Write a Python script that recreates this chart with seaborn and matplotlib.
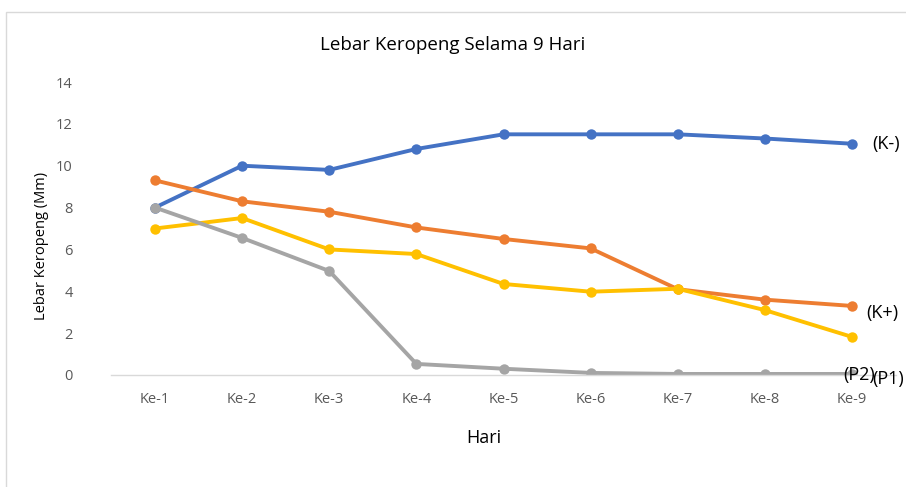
import matplotlib
matplotlib.use("Agg")
import matplotlib.pyplot as plt
import seaborn as sns
import pandas as pd
from matplotlib.patches import Rectangle

days = ["Ke-1", "Ke-2", "Ke-3", "Ke-4", "Ke-5", "Ke-6", "Ke-7", "Ke-8", "Ke-9"]
k_minus = [8.0, 10.0, 9.8, 10.8, 11.5, 11.5, 11.5, 11.3, 11.05]
k_plus = [9.3, 8.3, 7.8, 7.05, 6.5, 6.05, 4.1, 3.6, 3.3]
p1 = [7.0, 7.5, 6.0, 5.78, 4.35, 3.98, 4.12, 3.1, 1.82]
p2 = [8.0, 6.55, 4.97, 0.53, 0.3, 0.1, 0.05, 0.05, 0.05]
series_names = ["(K-)", "(K+)", "(P1)", "(P2)"]
colors = ["#4472C4", "#ED7D31", "#FFC000", "#A5A5A5"]

rows = []
for name, vals in zip(series_names, [k_minus, k_plus, p1, p2]):
    for i, v in enumerate(vals):
        rows.append({"idx": i, "val": v, "series": name})
df = pd.DataFrame(rows)

sns.set_theme(style="white")
plt.rcParams["font.family"] = ["Open Sans", "DejaVu Sans"]

fig = plt.figure(figsize=(9.06, 4.87), dpi=100)
ax = fig.add_axes([111.4 / 906, 112 / 487, 784.2 / 906, 293 / 487])

sns.lineplot(data=df, x="idx", y="val", hue="series", palette=colors,
             hue_order=series_names, sort=False, marker="o", markersize=7.5,
             markeredgewidth=0, linewidth=2.8, ax=ax, legend=False)

ax.set_xlim(-0.5, 8.5)
ax.set_ylim(0, 14)
ax.set_xticks(range(len(days)))
ax.set_xticklabels(days)
ax.set_yticks(range(0, 15, 2))
ax.tick_params(axis="both", colors="#595959", labelsize=10.5, length=0)
ax.tick_params(axis="x", pad=12)
ax.tick_params(axis="y", pad=28)
for s in ["left", "right", "top"]:
    ax.spines[s].set_visible(False)
ax.spines["bottom"].set_color("#D9D9D9")
ax.spines["bottom"].set_linewidth(1.0)
ax.set_xlabel("Hari", fontsize=13, color="#000000")
ax.set_ylabel("Lebar Keropeng (Mm)", fontsize=10.5, color="#000000")
ax.yaxis.set_label_coords(-0.079, 0.44)
ax.xaxis.set_label_coords(0.475, -0.185)

fig.text(453 / 906, 1 - 45 / 487, "Lebar Keropeng Selama 9 Hari", ha="center",
         va="center", fontsize=13.5, color="#000000")

# series labels next to the last points
label_pos = {"(K-)": (8.23, 11.05), "(K+)": (8.16, 2.95), "(P1)": (8.23, -0.2), "(P2)": (7.9, 0.0)}
for name in series_names:
    x, y = label_pos[name]
    ax.text(x, y, name, fontsize=13, color="#000000", ha="left", va="center", clip_on=False)

fig.patches.append(Rectangle((6 / 906, -0.01), 1.0, 1 - 12 / 487 + 0.01,
                             transform=fig.transFigure, fill=False,
                             edgecolor="#D9D9D9", linewidth=1.0))

fig.savefig("out.png", dpi=100)
